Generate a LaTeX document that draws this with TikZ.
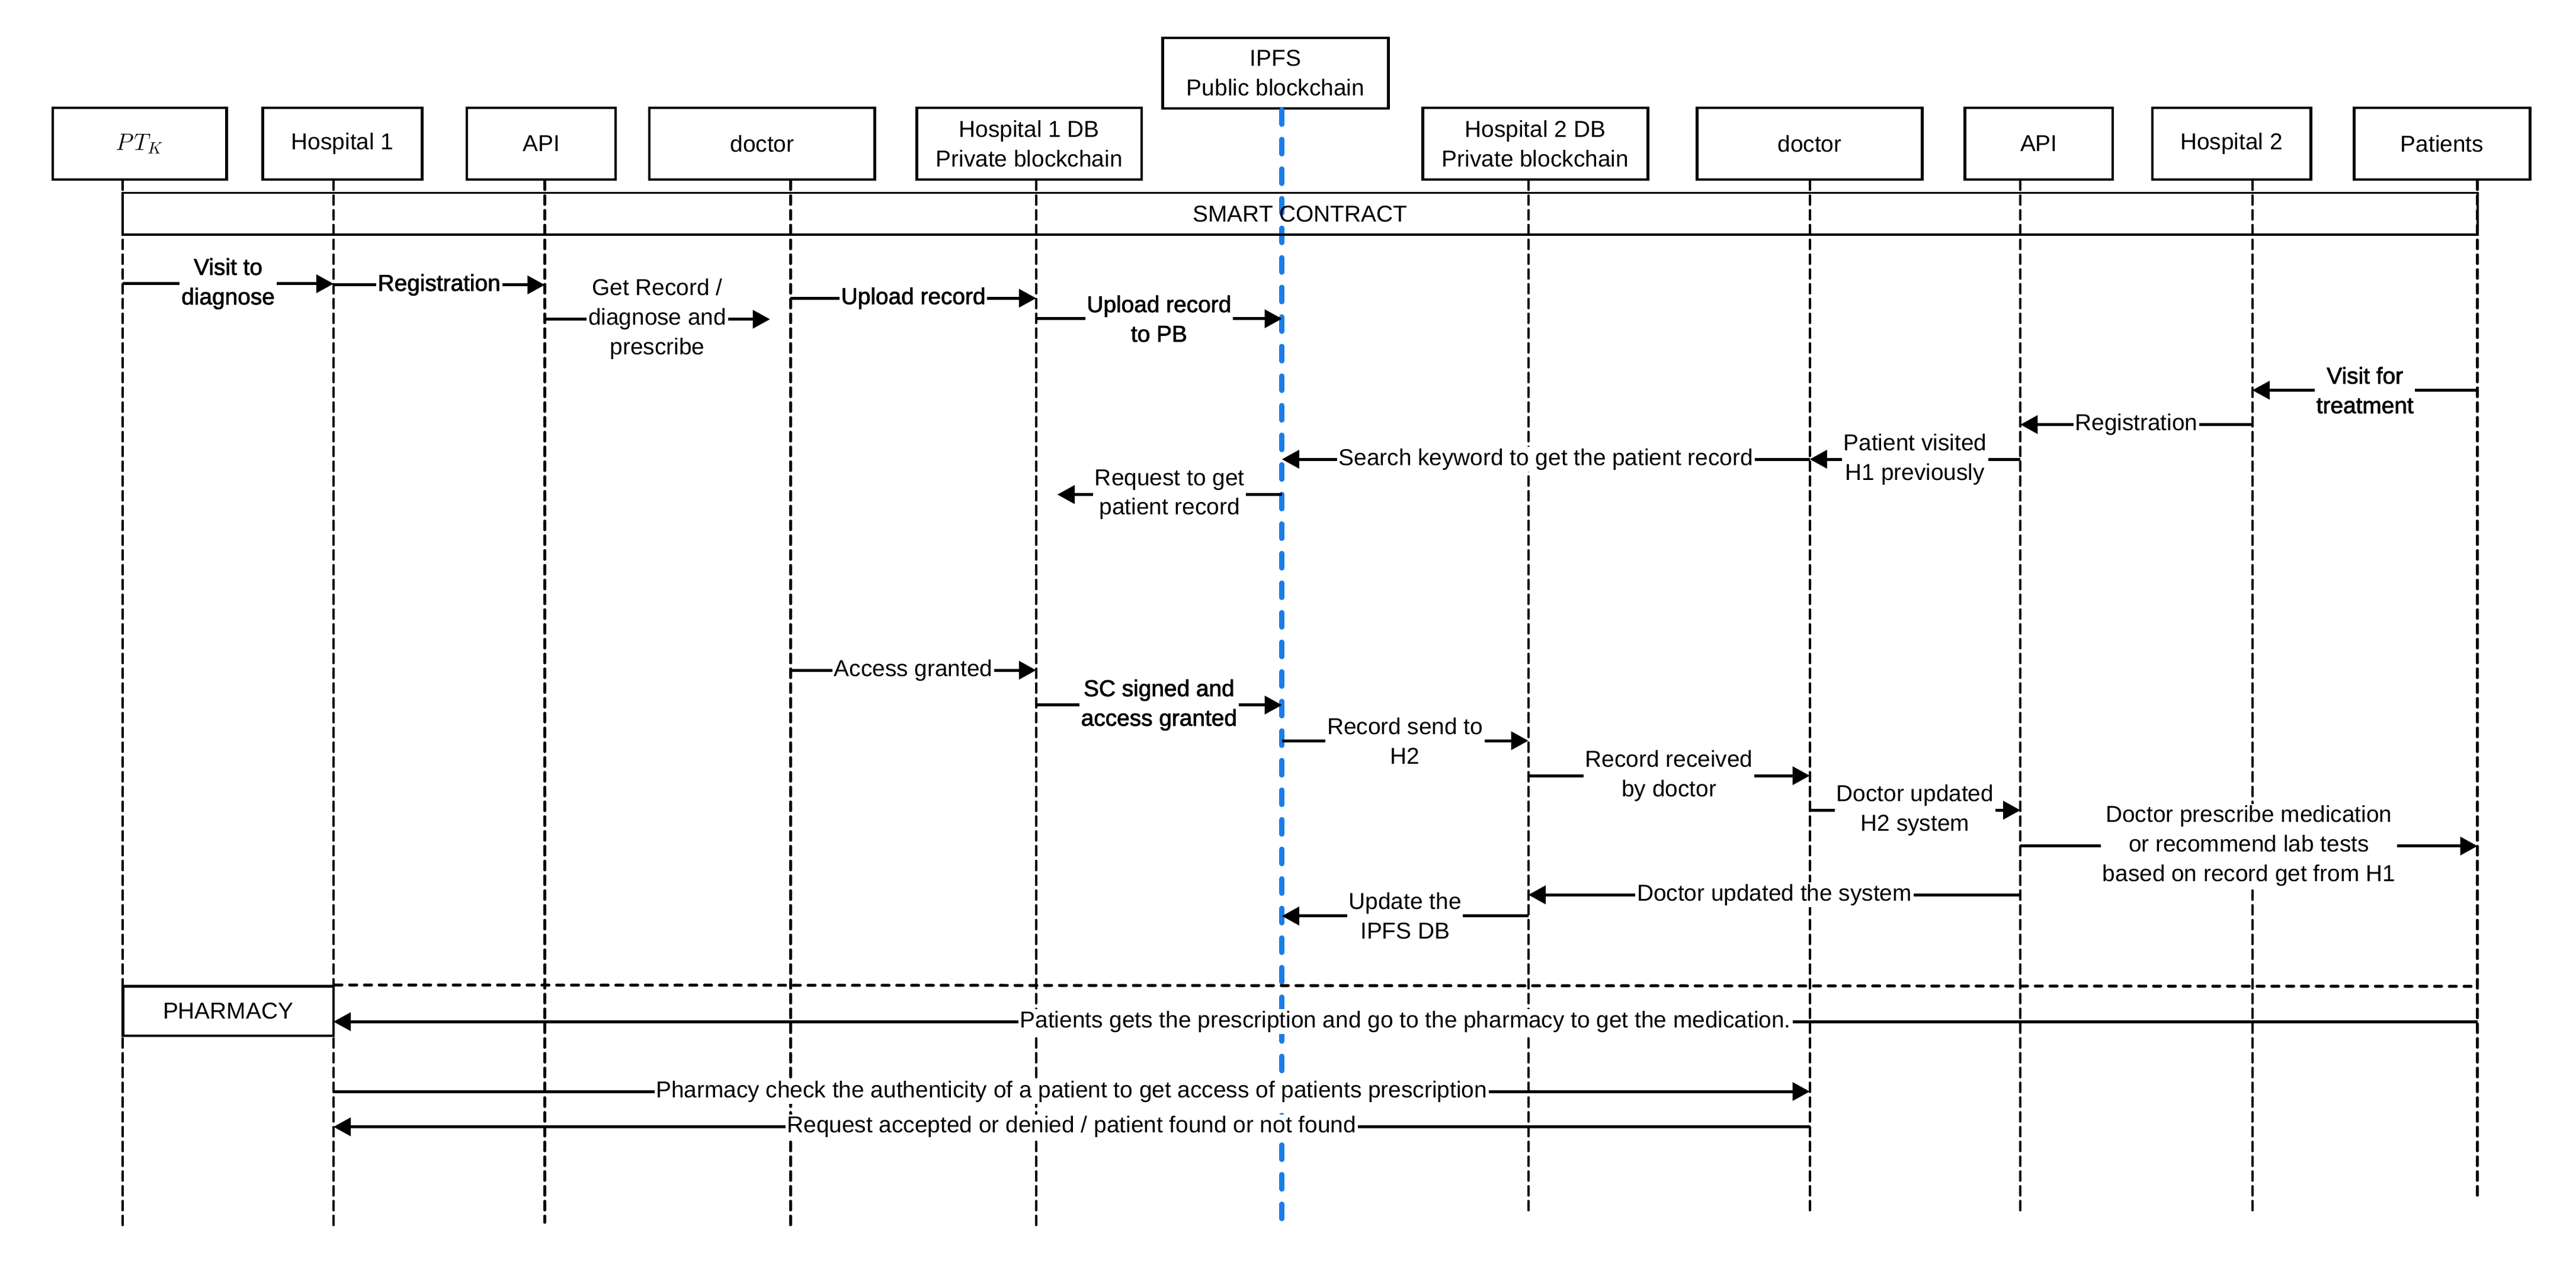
\documentclass[tikz,border=0pt]{standalone}
\usepackage{fontspec}
\setmainfont{Liberation Sans}
\newfontfamily\medfont[FakeBold=2]{Liberation Sans}
\usetikzlibrary{arrows.meta,calc}
\definecolor{ipfsblue}{RGB}{26,125,232}
\tikzset{
  topbox/.style={draw, line width=1.6pt, minimum height=43.5pt, inner sep=0pt, align=center, font=\fontsize{14}{18}\selectfont},
  lifeline/.style={line width=1.6pt, line cap=round, dash pattern=on 5.5pt off 3.5pt},
  publine/.style={draw=ipfsblue, line width=3.1pt, line cap=round, dash pattern=on 8.9pt off 9.1pt},
  dotline/.style={line width=1.8pt, line cap=round, dash pattern=on 4.3pt off 4.7pt},
  msgarrow/.style={line width=1.8pt, -{Triangle[length=10.5pt,width=11pt]}},
  lbl/.style={fill=white, inner xsep=1pt, inner ysep=1pt, align=center, font=\fontsize{14}{18}\selectfont},
  blbl/.style={lbl, font=\medfont\fontsize{14}{18}\selectfont},
}
\newcommand\seqmsg[5]{\draw[msgarrow] ($(#1)+(0,#3)$) -- ($(#2)+(0,#3)$) node[midway,#4] {#5};}
\begin{document}
\begin{tikzpicture}[x=1pt,y=-1pt]
\useasboundingbox (0,0) rectangle (1568,783);
% lifeline x positions
\coordinate (xptk) at (74.7,0);
\coordinate (xh1) at (203,0);
\coordinate (xapi) at (331.6,0);
\coordinate (xdoc) at (481.2,0);
\coordinate (xh1db) at (630.7,0);
\coordinate (xipfs) at (780.3,0);
\coordinate (xh2db) at (930.3,0);
\coordinate (xdoc2) at (1101.6,0);
\coordinate (xapi2) at (1229.8,0);
\coordinate (xh2) at (1371,0);
\coordinate (xpat) at (1508,0);
\coordinate (getend) at (468.7,0);
\coordinate (reqend) at (643.6,0);
% top boxes
\node[topbox, minimum width=106pt] (ptk) at (85,87.45) {$PT_K$};
\node[topbox, minimum width=97pt] (h1) at (208.5,87.45) {Hospital 1};
\node[topbox, minimum width=90.5pt] (api) at (329.5,87.45) {API};
\node[topbox, minimum width=137.2pt] (doc) at (463.9,87.45) {doctor};
\node[topbox, minimum width=137pt] (h1db) at (626.5,87.45) {Hospital 1 DB\\Private blockchain};
\node[topbox, minimum width=137.3pt, minimum height=43pt] (ipfs) at (776.4,44.5) {IPFS\\Public blockchain};
\node[topbox, minimum width=137pt] (h2db) at (934.5,87.45) {Hospital 2 DB\\Private blockchain};
\node[topbox, minimum width=137pt] (doc2) at (1101.5,87.45) {doctor};
\node[topbox, minimum width=90pt] (api2) at (1241,87.45) {API};
\node[topbox, minimum width=96.5pt] (h2) at (1358.3,87.45) {Hospital 2};
\node[topbox, minimum width=107pt] (pat) at (1486.5,87.45) {Patients};
% lifelines
\draw[lifeline] (xptk |- ptk.south) -- ($(xptk)+(0,748)$);
\draw[lifeline] (xh1 |- h1.south) -- ($(xh1)+(0,748)$);
\draw[lifeline] (xapi |- api.south) -- ($(xapi)+(0,744)$);
\draw[lifeline] (xdoc |- doc.south) -- ($(xdoc)+(0,748)$);
\draw[lifeline] (xh1db |- h1db.south) -- ($(xh1db)+(0,748)$);
\draw[publine] (xipfs |- ipfs.south) -- ($(xipfs)+(0,746.5)$);
\draw[lifeline] (xh2db |- h2db.south) -- ($(xh2db)+(0,739)$);
\draw[lifeline] (xdoc2 |- doc2.south) -- ($(xdoc2)+(0,739)$);
\draw[lifeline] (xapi2 |- api2.south) -- ($(xapi2)+(0,739)$);
\draw[lifeline] (xh2 |- h2.south) -- ($(xh2)+(0,737)$);
\draw[lifeline] (xpat |- pat.south) -- ($(xpat)+(0,730)$);
% smart contract and pharmacy
\node[draw, line width=1.4pt, minimum width=1433.3pt, minimum height=25.4pt, inner sep=0pt, font=\fontsize{14}{18}\selectfont] (sc) at (791.35,130.1) {SMART CONTRACT};
\node[draw, line width=1.7pt, minimum width=128.3pt, minimum height=30.1pt, inner sep=0pt, font=\fontsize{14}{18}\selectfont] (ph) at (138.85,615.35) {PHARMACY};
\draw[dotline] (ph.north east) -- ($(xpat)+(0,600.3)$);
% messages
\seqmsg{xptk}{xh1}{172.7}{blbl}{Visit to\\diagnose}
\seqmsg{xh1}{xapi}{173.4}{blbl}{Registration}
\seqmsg{xapi}{getend}{194.3}{lbl}{Get Record /\\diagnose and\\prescribe}
\seqmsg{xdoc}{xh1db}{181.5}{blbl}{Upload record}
\seqmsg{xh1db}{xipfs}{194}{blbl}{Upload record\\to PB}
\seqmsg{xpat}{xh2}{237.5}{blbl}{Visit for\\treatment}
\seqmsg{xh2}{xapi2}{258.4}{lbl}{Registration}
\seqmsg{xapi2}{xdoc2}{279.5}{lbl}{Patient visited\\H1 previously}
\seqmsg{xdoc2}{xipfs}{279.5}{lbl}{Search keyword to get the patient record}
\seqmsg{xipfs}{reqend}{301}{lbl}{Request to get\\patient record}
\seqmsg{xdoc}{xh1db}{407.9}{lbl}{Access granted}
\seqmsg{xh1db}{xipfs}{429.1}{blbl}{SC signed and\\access granted}
\seqmsg{xipfs}{xh2db}{450.8}{lbl}{Record send to\\H2}
\seqmsg{xh2db}{xdoc2}{472.1}{lbl}{Record received\\by doctor}
\seqmsg{xdoc2}{xapi2}{493.1}{lbl}{Doctor updated\\H2 system}
\seqmsg{xapi2}{xpat}{514.9}{lbl}{Doctor prescribe medication\\or recommend lab tests\\based on record get from H1}
\seqmsg{xapi2}{xh2db}{544.6}{lbl}{Doctor updated the system}
\seqmsg{xh2db}{xipfs}{557.5}{lbl}{Update the\\IPFS DB}
\seqmsg{xpat}{xh1}{621.8}{lbl}{Patients gets the prescription and go to the pharmacy to get the medication.}
\seqmsg{xh1}{xdoc2}{664.3}{lbl}{Pharmacy check the authenticity of a patient to get access of patients prescription}
\seqmsg{xdoc2}{xh1}{685.8}{lbl}{Request accepted or denied / patient found or not found}
\end{tikzpicture}
\end{document}
